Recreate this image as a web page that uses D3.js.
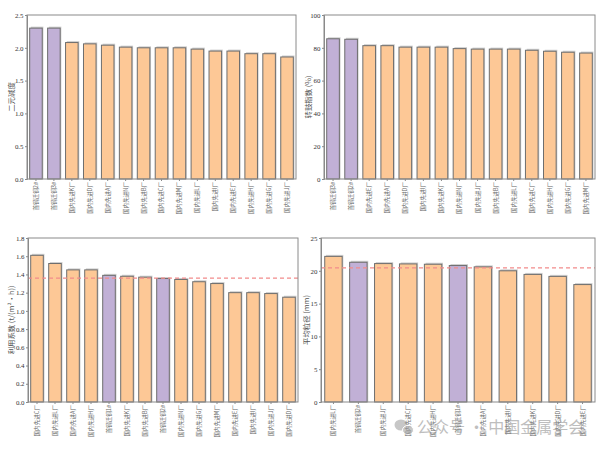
<!DOCTYPE html>
<html><head><meta charset="utf-8">
<script src="https://cdn.jsdelivr.net/npm/d3@7"></script>
<style>body{margin:0;background:#fff}</style>
</head><body><svg id="c" width="606" height="450"></svg>
<script>
// ---- data ----
const cats1 = ["首钢迁钢2#","首钢迁钢3#","国内先进K厂","国内先进D厂","国内先进A厂","国内先进N厂","国内先进B厂","国内先进C厂","国内先进M厂","国内先进L厂","国内先进I厂","国内先进E厂","国内先进H厂","国内先进G厂","国内先进J厂"];
const vals1 = [2.30,2.30,2.08,2.06,2.04,2.01,2.00,2.00,2.00,1.98,1.95,1.95,1.91,1.91,1.86];
const ticks1 = [0,0.5,1.0,1.5,2.0,2.5];

const cats2 = ["首钢迁钢3#","首钢迁钢2#","国内先进E厂","国内先进A厂","国内先进D厂","国内先进I厂","国内先进K厂","国内先进N厂","国内先进J厂","国内先进B厂","国内先进L厂","国内先进C厂","国内先进H厂","国内先进G厂","国内先进M厂"];
const vals2 = [85.5,85.2,81.3,81.3,80.4,80.4,80.4,79.5,79.2,79.2,79.2,78.5,77.9,77.3,76.8];
const ticks2 = [0,20,40,60,80,100];

const cats3 = ["国内先进C厂","国内先进L厂","国内先进A厂","国内先进H厂","首钢迁钢1#","国内先进K厂","国内先进B厂","首钢迁钢2#","国内先进N厂","国内先进G厂","国内先进M厂","国内先进E厂","国内先进I厂","国内先进J厂","国内先进D厂"];
const vals3 = [1.61,1.52,1.45,1.45,1.39,1.38,1.37,1.355,1.345,1.32,1.30,1.20,1.20,1.19,1.15];
const ticks3 = [0,0.2,0.4,0.6,0.8,1.0,1.2,1.4,1.6,1.8];
const ref3 = 1.36;

const cats4 = ["国内先进L厂","首钢迁钢2#","国内先进J厂","国内先进C厂","国内先进H厂","首钢迁钢1#","国内先进A厂","国内先进I厂","国内先进K厂","国内先进D厂","国内先进E厂"];
const vals4 = [22.2,21.3,21.1,21.05,21.0,20.8,20.6,20.0,19.45,19.15,17.9];
const ticks4 = [0,5,10,15,20,25];
const ref4 = 20.45;

const titles = ["二元碱度","转鼓指数 (%)","利用系数 (t/(m²·h))","平均粒径 (mm)"];

// ---- layout ----
const panels = [
  {cats:cats1, vals:vals1, ticks:ticks1, fmt:".1f", title:titles[0], box:[27,15,296,179], lx:11, ref:null},
  {cats:cats2, vals:vals2, ticks:ticks2, fmt:"d",   title:titles[1], box:[324,15,595,179], lx:308.5, ref:null},
  {cats:cats3, vals:vals3, ticks:ticks3, fmt:".1f", title:titles[2], box:[28,238,298,402], lx:11, ref:ref3},
  {cats:cats4, vals:vals4, ticks:ticks4, fmt:"d",   title:titles[3], box:[321,238,595,402], lx:306.5, ref:ref4}
];

const svg = d3.select("#c");
const ORANGE = "#fdc896", PURPLE = "#c1b0d6", EDGE = "#6e6e6e", FRAME = "#8a8a8a";

panels.forEach(p => {
  const [x0,y0,x1,y1] = p.box;
  const x = d3.scaleBand().domain(p.cats).range([x0,x1]).paddingInner(0.3).paddingOuter(0.15);
  const y = d3.scaleLinear().domain([p.ticks[0], p.ticks[p.ticks.length-1]]).range([y1,y0]);
  const g = svg.append("g");

  // shadows
  g.selectAll("rect.sh").data(p.vals).enter().append("rect")
    .attr("x",(d,i)=>x(p.cats[i])+1.2).attr("y",d=>y(d)-1.5)
    .attr("width",x.bandwidth()).attr("height",d=>y1-y(d)+1.5)
    .attr("fill","#cfcfcf");
  // bars
  g.selectAll("rect.b").data(p.vals).enter().append("rect")
    .attr("x",(d,i)=>x(p.cats[i])).attr("y",d=>y(d))
    .attr("width",x.bandwidth()).attr("height",d=>y1-y(d))
    .attr("fill",(d,i)=>p.cats[i].startsWith("首钢")?PURPLE:ORANGE)
    .attr("stroke",EDGE).attr("stroke-width",1);

  // reference line
  if (p.ref !== null) {
    g.append("line").attr("x1",x0).attr("x2",x1).attr("y1",y(p.ref)).attr("y2",y(p.ref))
      .attr("stroke","#f28b8b").attr("stroke-width",1.2).attr("stroke-dasharray","4,3");
  }

  // frame
  g.append("rect").attr("x",x0).attr("y",y0).attr("width",x1-x0).attr("height",y1-y0)
    .attr("fill","none").attr("stroke",FRAME).attr("stroke-width",1);

  // y axis
  const ya = g.append("g").attr("transform",`translate(${x0},0)`)
    .call(d3.axisLeft(y).tickValues(p.ticks).tickFormat(d3.format(p.fmt)).tickSize(2).tickPadding(1.5));
  ya.select(".domain").attr("stroke",FRAME);
  ya.selectAll(".tick line").attr("stroke",FRAME);
  ya.selectAll("text").attr("font-family","'Liberation Serif', serif").attr("font-size",6.9).attr("fill","#333");

  // x axis
  const xa = g.append("g").attr("transform",`translate(0,${y1})`)
    .call(d3.axisBottom(x).tickSize(2).tickPadding(2));
  xa.select(".domain").remove();
  xa.selectAll(".tick line").attr("stroke",FRAME);
  xa.selectAll("text")
    .attr("font-family","'Noto Sans CJK SC', sans-serif").attr("font-size",5.6).attr("fill","#666")
    .attr("text-anchor","end").attr("transform","rotate(-90)")
    .attr("x",-3).attr("y",0).attr("dy","0.35em");

  // y title
  svg.append("text").attr("transform",`translate(${p.lx},${(y0+y1)/2}) rotate(-90)`)
    .attr("text-anchor","middle").attr("dy","0.35em")
    .attr("font-family","'Noto Sans CJK SC', sans-serif").attr("font-size",7.4).attr("fill","#555")
    .text(p.title);
});

// watermark
const wm = svg.append("g").attr("opacity",0.55);
wm.append("ellipse").attr("cx",401).attr("cy",425).attr("rx",6.5).attr("ry",5.5).attr("fill","#9a9a9a");
wm.append("ellipse").attr("cx",408).attr("cy",430).attr("rx",5.5).attr("ry",4.5).attr("fill","#9a9a9a").attr("stroke","#fff").attr("stroke-width",1);
wm.append("text").attr("x",417).attr("y",433).attr("font-family","'Noto Sans CJK SC', sans-serif")
  .attr("font-size",16).attr("fill","#8a8a8a").text("公众号 · 中国金属学会");
</script></body></html>
